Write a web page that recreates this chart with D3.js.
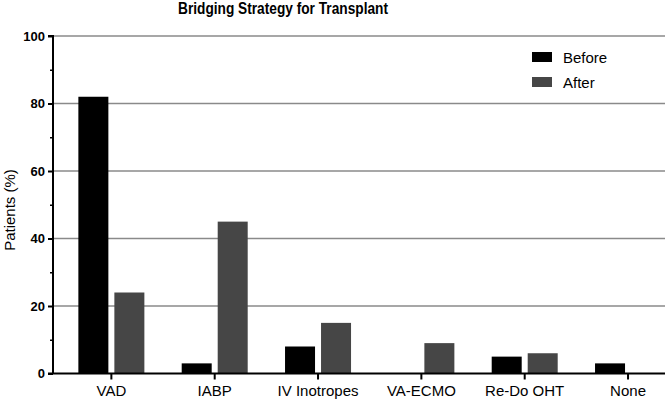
<!DOCTYPE html>
<html><head><meta charset="utf-8">
<script src="https://cdnjs.cloudflare.com/ajax/libs/d3/7.8.5/d3.min.js"></script>
<style>body{margin:0;background:#fff}svg{display:block}text{font-family:"Liberation Sans",Arial,sans-serif}</style>
</head><body>
<script>
const categories = ["VAD","IABP","IV Inotropes","VA-ECMO","Re-Do OHT","None"];
const seriesNames = ["Before","After"];
const before = [82,3,8,0,5,3];
const after = [24,45,15,9,6,0];
const yTicks = [0,20,40,60,80,100];
const minorTicks = [10,30,50,70,90];
const colors = {Before:"#000000", After:"#464646"};

const W=666,H=400;
const svg=d3.select("body").append("svg").attr("width",W).attr("height",H);
const y=d3.scaleLinear().domain([0,100]).range([373.5,36]);
const x=d3.scaleBand().domain(categories).range([59.7,679.7]).padding(0);
const xs=d3.scaleBand().domain(seriesNames).range([0,66]).paddingInner(1/6).paddingOuter(0);
const axisX=53, right=665;

// gridlines
svg.append("g").selectAll("line").data(yTicks.filter(d=>d>0)).join("line")
  .attr("x1",axisX).attr("x2",right).attr("y1",d=>y(d)).attr("y2",d=>y(d))
  .attr("stroke","#8a8a8a").attr("stroke-width",1.5);

// bars
const data=categories.map((c,i)=>({c,vals:[{s:"Before",v:before[i]},{s:"After",v:after[i]}]}));
const g=svg.append("g").selectAll("g").data(data).join("g")
  .attr("transform",d=>`translate(${x(d.c)+x.bandwidth()/2-33},0)`);
g.selectAll("rect").data(d=>d.vals.filter(v=>v.v>0)).join("rect")
  .attr("x",d=>xs(d.s)).attr("width",xs.bandwidth())
  .attr("y",d=>y(d.v)).attr("height",d=>y(0)-y(d.v))
  .attr("fill",d=>colors[d.s]);

// y axis
const ya=svg.append("g").attr("transform",`translate(${axisX},0)`)
  .call(d3.axisLeft(y).tickValues(yTicks).tickSize(5).tickPadding(3));
ya.select(".domain").attr("stroke","#000").attr("stroke-width",2).attr("d",`M-5,${y(100)}H0V${y(0)}`);
ya.selectAll(".tick line").attr("stroke","#000").attr("stroke-width",2);
ya.selectAll("text").attr("font-size",13).attr("font-weight","bold").attr("fill","#000");
const ym=svg.append("g").attr("transform",`translate(${axisX},0)`)
  .call(d3.axisLeft(y).tickValues(minorTicks).tickSize(3).tickFormat(""));
ym.select(".domain").remove();
ym.selectAll(".tick line").attr("stroke","#000").attr("stroke-width",1.5);

// x axis
const xa=svg.append("g").attr("transform",`translate(0,${y(0)})`)
  .call(d3.axisBottom(x).tickSize(6).tickPadding(6));
xa.select(".domain").attr("stroke","#000").attr("stroke-width",2).attr("d",`M${axisX-5},0H${right}`);
xa.selectAll(".tick line").attr("stroke","#000").attr("stroke-width",2);
xa.selectAll("text").attr("font-size",15).attr("fill","#000");

// y label
svg.append("text").attr("transform",`translate(14.5,210) rotate(-90)`)
  .attr("text-anchor","middle").attr("font-size",15).text("Patients (%)");

// title
svg.append("text").attr("x",283).attr("y",14).attr("text-anchor","middle")
  .attr("font-size",16).attr("font-weight","bold")
  .attr("textLength",210).attr("lengthAdjust","spacingAndGlyphs")
  .text("Bridging Strategy for Transplant");

// legend
const lg=svg.append("g").selectAll("g").data(seriesNames).join("g")
  .attr("transform",(d,i)=>`translate(532,${52+i*25})`);
lg.append("rect").attr("width",20).attr("height",10).attr("fill",d=>colors[d]);
lg.append("text").attr("x",31).attr("y",10.5).attr("font-size",15).text(d=>d);
</script>
</body></html>
